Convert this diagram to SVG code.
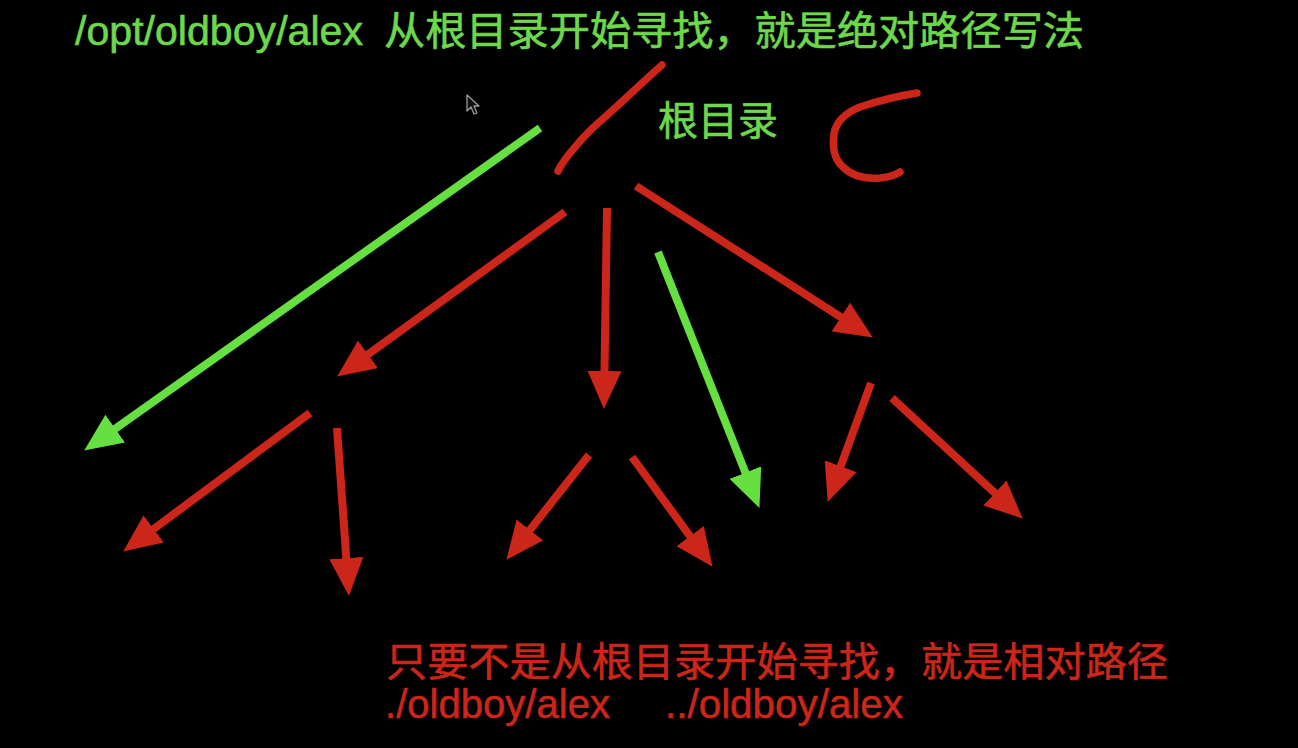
<svg xmlns="http://www.w3.org/2000/svg" width="1298" height="748" viewBox="0 0 1298 748">
  <defs>
    <style>
      .txt { font-family: "Liberation Sans", "Noto Sans CJK SC", sans-serif; font-size: 40px; }
      .green { fill: #6cd84a; stroke: #6cd84a; stroke-width: 0.6; }
      .red { fill: #cc2519; stroke: #cc2519; stroke-width: 0.6; }
      .ar { stroke: #cc2519; stroke-width: 8; fill: none; marker-end: url(#hr); }
      .ag { stroke: #66e040; stroke-width: 8; fill: none; marker-end: url(#hg); }
      .pen { stroke: #cc2519; stroke-width: 7.5; fill: none; stroke-linecap: round; stroke-linejoin: round; }
    </style>
    <marker id="hr" markerUnits="userSpaceOnUse" markerWidth="38" markerHeight="34" refX="7" refY="17" orient="auto">
      <path d="M0,0 L38,17 L0,34 z" fill="#cc2519"/>
    </marker>
    <marker id="hg" markerUnits="userSpaceOnUse" markerWidth="38" markerHeight="34" refX="7" refY="17" orient="auto">
      <path d="M0,0 L38,17 L0,34 z" fill="#66e040"/>
    </marker>
  </defs>
  <rect x="0" y="0" width="1298" height="748" fill="#000"/>

  <g id="title">
    <text class="txt green" x="75" y="45" font-size="41" textLength="288" lengthAdjust="spacingAndGlyphs">/opt/oldboy/alex</text>
    <text class="txt green" x="384" y="45" font-size="41" textLength="700" lengthAdjust="spacingAndGlyphs">从根目录开始寻找，就是绝对路径写法</text>
  </g>

  <g id="root">
    <path class="pen" d="M662,65 C645,80 622,102 605,117 C592,128 584,136 576,146 C568,155 562,163 558,171"/>
    <text class="txt green" x="658" y="135">根目录</text>
  </g>

  <g id="c-mark">
    <path class="pen" d="M917,93 C898,96 878,101 860,107 C845,113 836,122 834,134 C832,148 835,160 843,167 C852,176 866,179 880,178 C890,177 896,175 900,172"/>
  </g>

  <g id="cursor">
    <path d="M467,95 L467,111 L471,107 L474,114 L477,113 L474,106 L479,106 Z" fill="#111" stroke="#9a9a9a" stroke-width="1.3" stroke-linejoin="round"/>
  </g>

  <g id="connectors">
    <line class="ag" x1="540" y1="128" x2="109.5" y2="432.7"/>
    <line class="ar" x1="565" y1="212" x2="362.3" y2="358.4"/>
    <line class="ar" x1="607" y1="208" x2="604.4" y2="378"/>
    <line class="ag" x1="658" y1="252" x2="748" y2="479.1"/>
    <line class="ar" x1="636" y1="186" x2="846.7" y2="320.8"/>
    <line class="ar" x1="310" y1="413" x2="148.1" y2="533.1"/>
    <line class="ar" x1="337" y1="428" x2="346.8" y2="565.1"/>
    <line class="ar" x1="589" y1="455" x2="525.6" y2="535.4"/>
    <line class="ar" x1="632" y1="457" x2="694.2" y2="541.8"/>
    <line class="ar" x1="871" y1="383" x2="838.3" y2="472.8"/>
    <line class="ar" x1="892" y1="398" x2="1000" y2="497.7"/>
  </g>

  <g id="relative-note">
    <text class="txt red" x="386" y="676" textLength="782" lengthAdjust="spacingAndGlyphs">只要不是从根目录开始寻找，就是相对路径</text>
    <text class="txt red" x="385" y="718" textLength="225" lengthAdjust="spacingAndGlyphs">./oldboy/alex</text>
    <text class="txt red" x="665" y="718" textLength="238" lengthAdjust="spacingAndGlyphs">../oldboy/alex</text>
  </g>
</svg>
